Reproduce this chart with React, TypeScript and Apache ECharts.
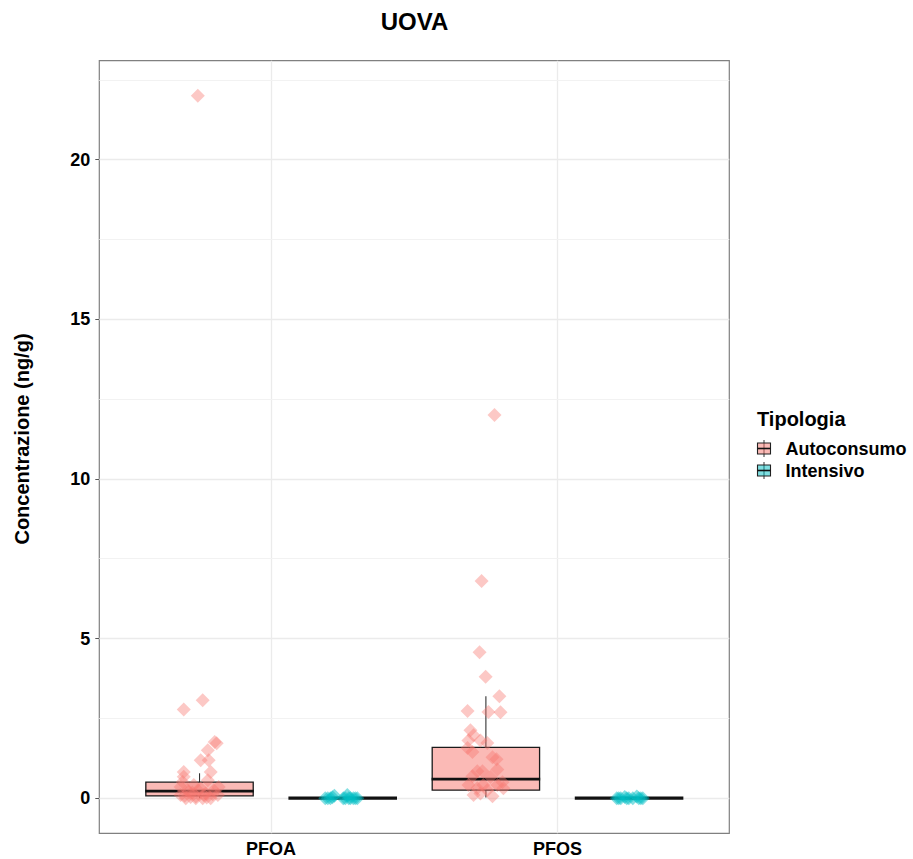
import React, { useEffect, useRef } from "react";
import * as echarts from "echarts";

// ---------- data ----------
const chartTitle = "UOVA";
const yAxisTitle = "Concentrazione (ng/g)";
const legendTitle = "Tipologia";
const categories = ["PFOA", "PFOS"];
const groups = ["Autoconsumo", "Intensivo"];
const yMajorTicks = [0, 5, 10, 15, 20];
const yMinorTicks = [2.5, 7.5, 12.5, 17.5, 22.5];

// box stats per category: [lower whisker, Q1, median, Q3, upper whisker]
const autoBoxStats = [
  [0, 0.07, 0.22, 0.5, 0.78],
  [0.02, 0.25, 0.6, 1.59, 3.19],
];
const intBoxStats = [
  [0, 0, 0, 0, 0],
  [0, 0, 0, 0, 0],
];

// jittered points: values and horizontal jitter (axis units)
const pfoaAutoValues = [22, 3.07, 2.78, 1.76, 1.72, 1.5, 1.19, 1.19, 0.82, 0.82, 0.67, 0.56, 0.51, 0.41, 0.35, 0.35, 0.3, 0.25, 0.25, 0.25, 0.2, 0.15, 0.12, 0.1, 0.1, 0.1, 0.08, 0.05, 0.04, 0, 0, 0, 0, 0.02, 0.18];
const pfoaAutoJitter = [-0.006, 0.011, -0.055, 0.053, 0.06, 0.029, 0.004, 0.032, 0.039, -0.055, -0.055, 0.029, -0.059, -0.02, 0.067, -0.066, 0.004, -0.041, -0.006, 0.05, -0.038, 0.022, 0.046, -0.066, 0.015, 0.064, -0.052, -0.013, -0.031, -0.013, 0.039, -0.048, 0.011, 0.025, -0.025];
const pfosAutoValues = [12, 6.8, 4.57, 3.8, 3.19, 2.73, 2.7, 2.69, 2.13, 1.97, 1.81, 1.81, 1.73, 1.57, 1.45, 1.28, 1.22, 0.9, 0.84, 0.84, 0.69, 0.66, 0.5, 0.41, 0.41, 0.41, 0.31, 0.31, 0.25, 0.1, 0.06, 0.15];
const pfosAutoJitter = [0.03, -0.015, -0.022, -0.001, 0.047, -0.064, 0.009, 0.051, -0.054, -0.043, -0.061, -0.019, 0.005, -0.064, -0.047, 0.023, 0.037, 0.04, -0.03, -0.012, -0.047, 0.016, 0.058, -0.061, 0.04, -0.009, -0.03, 0.061, 0.005, -0.043, 0.023, -0.019];
const pfoaIntValues = [0, 0, 0.08, 0, 0, 0.1, 0, 0, 0, 0, 0.03, 0, 0];
const pfoaIntJitter = [-0.061, -0.043, -0.029, 0.002, 0.009, 0.016, 0.027, 0.037, 0.051, -0.052, -0.036, 0.021, 0.044];
const pfosIntValues = [0, 0, 0.04, 0, 0, 0.05, 0, 0, 0, 0, 0];
const pfosIntJitter = [-0.043, -0.029, -0.015, -0.001, 0.013, 0.027, 0.041, 0.048, -0.036, -0.008, 0.034];

// ---------- styles / layout ----------
const FONT = "'Liberation Sans', Arial, sans-serif";
const AUTO_COLOR = "rgba(248,118,109,0.5)";
const INT_COLOR = "rgba(0,191,196,0.6)";
const AUTO_KEY = "rgba(248,118,109,0.5)";
const INT_KEY = "rgba(0,191,196,0.5)";
const DODGE = [-0.25, 0.25];
const BOX_WIDTH = 0.375;

function buildPoints(values: number[], jitter: number[], cat: number, grp: number) {
  return values.map((v, i) => [cat + 1 + DODGE[grp] + jitter[i], v]);
}

function buildBoxes(stats: number[][], grp: number) {
  return stats.map((s, c) => [c + 1 + DODGE[grp], ...s]);
}

function renderBox(fill: string) {
  return (params: any, api: any) => {
    const x = api.value(0);
    const lo = api.value(1);
    const q1 = api.value(2);
    const med = api.value(3);
    const q3 = api.value(4);
    const hi = api.value(5);
    const tl = api.coord([x - BOX_WIDTH / 2, q3]);
    const br = api.coord([x + BOX_WIDTH / 2, q1]);
    const pHi = api.coord([x, hi]);
    const pLo = api.coord([x, lo]);
    const pMedL = api.coord([x - BOX_WIDTH / 2, med]);
    const pMedR = api.coord([x + BOX_WIDTH / 2, med]);
    const flat = Math.abs(br[1] - tl[1]) < 0.5;
    const medW = flat ? 3.2 : 2.8;
    const children: any[] = [
      {
        type: "rect",
        shape: { x: pHi[0] - 0.55, y: pHi[1], width: 1.1, height: Math.max(0, tl[1] - pHi[1]) },
        style: { fill: "#333" },
      },
      {
        type: "rect",
        shape: { x: pLo[0] - 0.55, y: br[1], width: 1.1, height: Math.max(0, pLo[1] - br[1]) },
        style: { fill: "#333" },
      },
    ];
    if (!flat) {
      children.push({
        type: "rect",
        shape: { x: tl[0], y: tl[1], width: br[0] - tl[0], height: br[1] - tl[1] },
        style: { fill, stroke: "#1a1a1a", lineWidth: 1.3 },
      });
    }
    children.push({
      type: "rect",
      shape: { x: pMedL[0] - 0.6, y: pMedL[1] - medW / 2, width: pMedR[0] - pMedL[0] + 1.2, height: medW },
      style: { fill: "#111" },
    });
    return { type: "group", children };
  };
}

export default function App() {
  const ref = useRef<HTMLDivElement>(null);

  useEffect(() => {
    if (!ref.current) return;
    const chart = echarts.init(ref.current, null, { renderer: "svg" });

    const autoPoints = [
      ...buildPoints(pfoaAutoValues, pfoaAutoJitter, 0, 0),
      ...buildPoints(pfosAutoValues, pfosAutoJitter, 1, 0),
    ];
    const intPoints = [
      ...buildPoints(pfoaIntValues, pfoaIntJitter, 0, 1),
      ...buildPoints(pfosIntValues, pfosIntJitter, 1, 1),
    ];

    const gridLines: any[] = [];
    categories.forEach((_, i) =>
      gridLines.push({ xAxis: i + 1, lineStyle: { color: "#EBEBEB", width: 1.3, type: "solid" } })
    );
    yMajorTicks.forEach((v) =>
      gridLines.push({ yAxis: v, lineStyle: { color: "#EBEBEB", width: 1.3, type: "solid" } })
    );
    yMinorTicks.forEach((v) =>
      gridLines.push({ yAxis: v, lineStyle: { color: "#F2F2F2", width: 1, type: "solid" } })
    );

    const legendChildren: any[] = [
      {
        type: "text",
        x: 757,
        y: 418.5,
        style: {
          text: legendTitle,
          font: `bold 20px ${FONT}`,
          fill: "#000",
          verticalAlign: "middle",
          align: "left",
        },
      },
    ];
    const keyColors = [AUTO_KEY, INT_KEY];
    groups.forEach((g, i) => {
      const cy = 448.5 + 22 * i;
      legendChildren.push(
        {
          type: "line",
          shape: { x1: 764, y1: cy - 8.5, x2: 764, y2: cy + 8.5 },
          style: { stroke: "#333", lineWidth: 1 },
        },
        {
          type: "rect",
          shape: { x: 757.5, y: cy - 5.5, width: 13, height: 11 },
          style: { fill: keyColors[i], stroke: "#222", lineWidth: 1.1 },
        },
        {
          type: "rect",
          shape: { x: 757.5, y: cy - 0.8, width: 13, height: 1.6 },
          style: { fill: "#111" },
        },
        {
          type: "text",
          x: 785.5,
          y: cy,
          style: {
            text: g,
            font: `bold 18px ${FONT}`,
            fill: "#000",
            verticalAlign: "middle",
            align: "left",
          },
        }
      );
    });

    chart.setOption({
      animation: false,
      backgroundColor: "#fff",
      textStyle: { fontFamily: FONT },
      grid: {
        left: 99.3,
        right: 183.7,
        top: 60.7,
        bottom: 25.7,
        show: true,
        borderColor: "#808080",
        borderWidth: 1.2,
        backgroundColor: "#fff",
        containLabel: false,
      },
      xAxis: {
        type: "value",
        min: 0.4,
        max: 2.6,
        axisLine: { show: false },
        splitLine: { show: false },
        axisTick: {
          show: true,
          customValues: categories.map((_, i) => i + 1),
          length: 4,
          lineStyle: { color: "#555", width: 1 },
        },
        axisLabel: {
          customValues: categories.map((_, i) => i + 1),
          formatter: (v: number) => categories[Math.round(v) - 1] ?? "",
          fontSize: 18,
          fontWeight: "bold",
          color: "#000",
          fontFamily: FONT,
          margin: 7,
        },
      },
      yAxis: {
        type: "value",
        min: -1.1,
        max: 23.1,
        axisLine: { show: false },
        splitLine: { show: false },
        axisTick: {
          show: true,
          customValues: yMajorTicks,
          length: 4,
          lineStyle: { color: "#555", width: 1 },
        },
        axisLabel: {
          customValues: yMajorTicks,
          fontSize: 18,
          fontWeight: "bold",
          color: "#000",
          fontFamily: FONT,
          margin: 9,
        },
      },
      graphic: [
        {
          type: "text",
          x: 414.5,
          y: 21,
          style: {
            text: chartTitle,
            font: `bold 24px ${FONT}`,
            fill: "#000",
            align: "center",
            verticalAlign: "middle",
          },
        },
        {
          type: "text",
          x: 22,
          y: 439,
          rotation: Math.PI / 2,
          style: {
            text: yAxisTitle,
            font: `bold 20px ${FONT}`,
            fill: "#000",
            align: "center",
            verticalAlign: "middle",
          },
        },
        { type: "group", children: legendChildren },
      ],
      series: [
        {
          name: "grid",
          type: "scatter",
          data: [],
          z: 1,
          silent: true,
          markLine: {
            z: 1,
            silent: true,
            symbol: ["none", "none"],
            label: { show: false },
            animation: false,
            data: gridLines,
          },
        },
        {
          name: groups[0] + " box",
          type: "custom",
          z: 6,
          renderItem: renderBox(AUTO_KEY),
          data: buildBoxes(autoBoxStats, 0),
          silent: true,
        },
        {
          name: groups[1] + " box",
          type: "custom",
          z: 6,
          renderItem: renderBox(INT_KEY),
          data: buildBoxes(intBoxStats, 1),
          silent: true,
        },
        {
          name: groups[0],
          type: "scatter",
          z: 7,
          symbol: "diamond",
          symbolSize: 14,
          itemStyle: { color: AUTO_COLOR },
          data: autoPoints,
        },
        {
          name: groups[1],
          type: "scatter",
          z: 7,
          symbol: "diamond",
          symbolSize: 14,
          itemStyle: { color: INT_COLOR },
          data: intPoints,
        },
      ],
    });

    return () => chart.dispose();
  }, []);

  return (
    <div
      ref={ref}
      style={{ position: "fixed", left: 0, top: 0, width: 913, height: 859, background: "#fff" }}
    />
  );
}
